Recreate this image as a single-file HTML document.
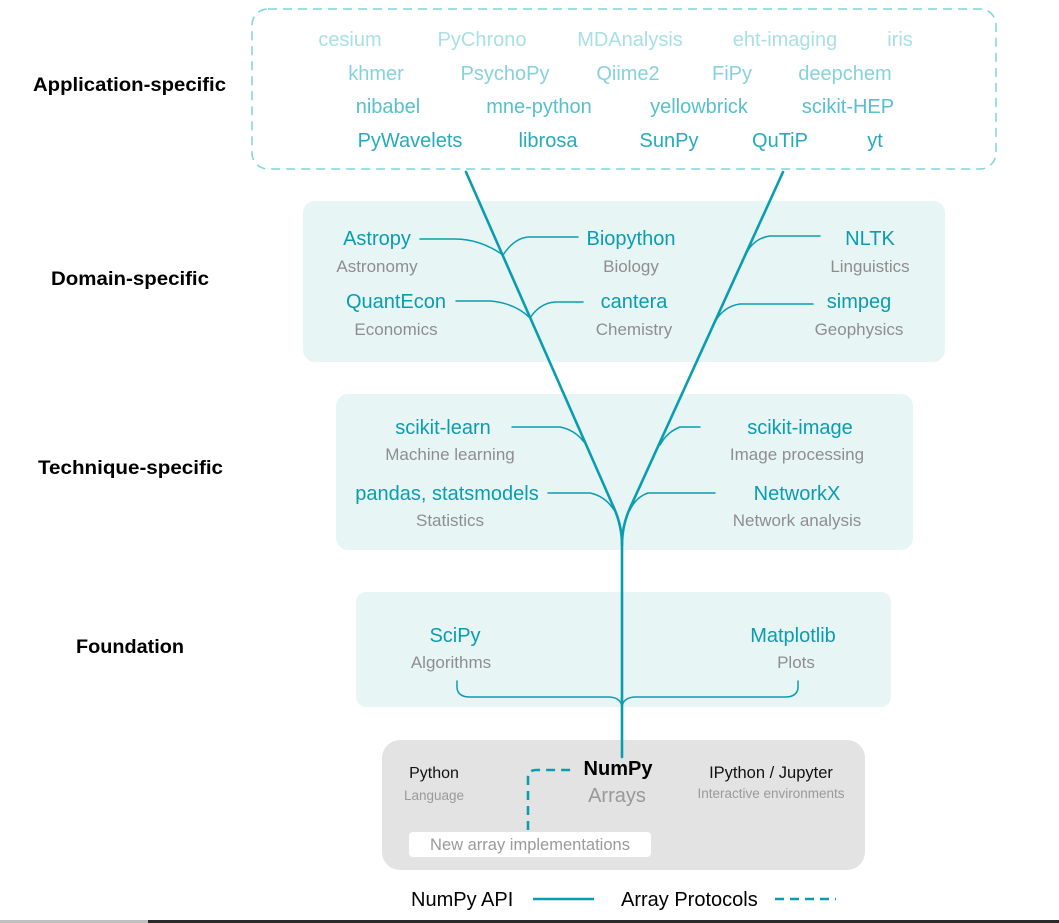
<!DOCTYPE html>
<html><head><meta charset="utf-8"><style>
html,body{margin:0;padding:0;background:#fff;}
svg{display:block;}
text{font-family:"Liberation Sans",sans-serif;}
</style></head><body>
<svg width="1059" height="923" viewBox="0 0 1059 923" xmlns="http://www.w3.org/2000/svg">
<rect x="0" y="0" width="1059" height="923" fill="#fff"/>
<rect x="252" y="9" width="744" height="160" rx="16" fill="none" stroke="#7fd3de" stroke-width="1.5" stroke-dasharray="9,6"/>
<rect x="303" y="201" width="642" height="161" rx="12" fill="#e8f5f5"/>
<rect x="336" y="394" width="577" height="156" rx="12" fill="#e8f5f5"/>
<rect x="356" y="592" width="535" height="115" rx="10" fill="#e8f5f5"/>
<rect x="382" y="740" width="483" height="130" rx="18" fill="#e3e3e3"/>
<rect x="409" y="832" width="242" height="25" rx="4" fill="#fff"/>

<g font-weight="bold" font-size="19" fill="#000">
<text x="33" y="91" textLength="193" lengthAdjust="spacingAndGlyphs">Application-specific</text>
<text x="51" y="285" textLength="158" lengthAdjust="spacingAndGlyphs">Domain-specific</text>
<text x="38" y="474" textLength="185" lengthAdjust="spacingAndGlyphs">Technique-specific</text>
<text x="76" y="653" textLength="108" lengthAdjust="spacingAndGlyphs">Foundation</text>
</g>

<g font-size="20" text-anchor="middle">
<g fill="#a8e0e6">
<text x="350" y="46">cesium</text><text x="482" y="46">PyChrono</text><text x="630" y="46">MDAnalysis</text><text x="785" y="46">eht-imaging</text><text x="900" y="46">iris</text>
</g>
<g fill="#86d2dc">
<text x="376" y="80">khmer</text><text x="505" y="80">PsychoPy</text><text x="628" y="80">Qiime2</text><text x="732" y="80">FiPy</text><text x="845" y="80">deepchem</text>
</g>
<g fill="#55c0ce">
<text x="388" y="113">nibabel</text><text x="539" y="113">mne-python</text><text x="699" y="113">yellowbrick</text><text x="848" y="113">scikit-HEP</text>
</g>
<g fill="#25abbd">
<text x="410" y="147">PyWavelets</text><text x="548" y="147">librosa</text><text x="669" y="147">SunPy</text><text x="780" y="147">QuTiP</text><text x="875" y="147">yt</text>
</g>
</g>

<g fill="none" stroke="#0a9db0" stroke-width="2.6" stroke-linecap="round">
<path d="M466 172 L614 508 Q622 526 622 545 L622 757"/>
<path d="M783 172 L630 508 Q622 526 622 545"/>
<g stroke-width="1.5">
<path d="M420 239 L455 239 Q480 239 503 255"/>
<path d="M578 237 L530 237 Q515 237 503 255"/>
<path d="M456 301 L490 301 Q515 303 530 318"/>
<path d="M583 302 L555 302 Q540 303 530 318"/>
<path d="M820 236 L770 236 Q755 238 747 252"/>
<path d="M813 304 L740 304 Q725 306 716 320"/>
<path d="M512 427 L560 427 Q575 430 584 442"/>
<path d="M700 427 L680 427 Q667 432 660 445"/>
<path d="M548 493 L590 493 Q605 496 614 510"/>
<path d="M715 493 L648 493 Q636 497 630 510"/>
<path d="M457 681 L457 688 Q458 697 470 697 L608 697 Q620 697 622 706"/>
<path d="M798 681 L798 688 Q797 697 785 697 L636 697 Q624 697 622 706"/>
</g>
<path d="M528 830 L528 778 Q528 770 536 770 L576 770" stroke-dasharray="9,6" stroke-linecap="butt"/>
<path d="M533 899 L594 899" stroke-linecap="butt"/>
<path d="M775 899 L836 899" stroke-dasharray="9,6" stroke-linecap="butt"/>
</g>

<g text-anchor="middle">
<g font-size="20" fill="#0a9db0">
<text x="377" y="245">Astropy</text><text x="631" y="245">Biopython</text><text x="870" y="245">NLTK</text>
<text x="396" y="308">QuantEcon</text><text x="634" y="308">cantera</text><text x="859" y="308">simpeg</text>
<text x="443" y="434">scikit-learn</text><text x="800" y="434">scikit-image</text>
<text x="447" y="500">pandas, statsmodels</text><text x="797" y="500">NetworkX</text>
<text x="455" y="642">SciPy</text><text x="793" y="642">Matplotlib</text>
</g>
<g font-size="17" fill="#8e8e8e">
<text x="377" y="272">Astronomy</text><text x="631" y="272">Biology</text><text x="870" y="272">Linguistics</text>
<text x="396" y="335">Economics</text><text x="634" y="335">Chemistry</text><text x="859" y="335">Geophysics</text>
<text x="450" y="460">Machine learning</text><text x="797" y="460">Image processing</text>
<text x="450" y="526">Statistics</text><text x="797" y="526">Network analysis</text>
<text x="451" y="668">Algorithms</text><text x="796" y="668">Plots</text>
</g>
<text x="434" y="778" font-size="16" fill="#111">Python</text>
<text x="434" y="800" font-size="13.5" fill="#9a9a9a">Language</text>
<text x="618" y="775" font-size="20" font-weight="bold" fill="#000">NumPy</text>
<text x="617" y="802" font-size="20" fill="#999">Arrays</text>
<text x="771" y="778" font-size="16.5" fill="#111">IPython / Jupyter</text>
<text x="771" y="798" font-size="13.5" fill="#9a9a9a">Interactive environments</text>
<text x="530" y="850" font-size="16.5" fill="#9a9a9a">New array implementations</text>
</g>
<text x="411" y="906" font-size="20" fill="#000">NumPy API</text>
<text x="621" y="906" font-size="20" fill="#000">Array Protocols</text>

<rect x="0" y="920" width="148" height="3" fill="#c0c0c0"/>
<rect x="148" y="920" width="911" height="3" fill="#2a2a2a"/>
</svg>
</body></html>
